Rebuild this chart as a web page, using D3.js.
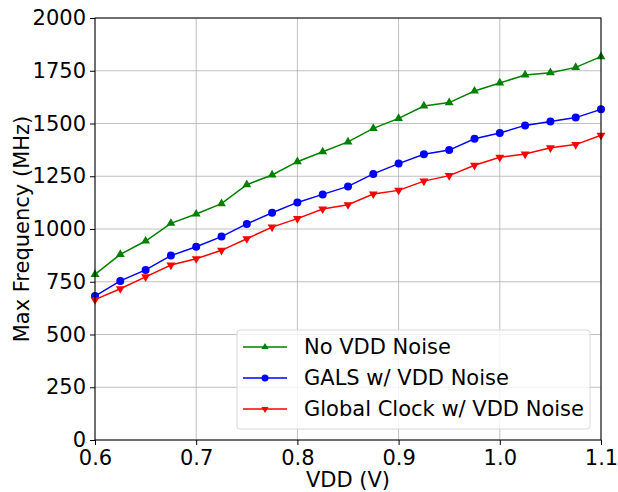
<!DOCTYPE html>
<html><head><meta charset="utf-8">
<script src="https://cdn.jsdelivr.net/npm/d3@7"></script>
<style>body{margin:0;background:#fff}svg{display:block}text{font-family:"DejaVu Sans",sans-serif}</style>
</head><body><svg id="c" width="618" height="492"></svg>
<script>
const vdd = [0.6,0.625,0.65,0.675,0.7,0.725,0.75,0.775,0.8,0.825,0.85,0.875,0.9,0.925,0.95,0.975,1.0,1.025,1.05,1.075,1.1];
const noNoise = [785,880,943,1027,1071,1120,1210,1256,1319,1366,1413,1477,1524,1583,1599,1654,1692,1730,1741,1766,1817];
const gals = [682,754,806,874,916,964,1024,1077,1126,1164,1202,1261,1310,1354,1374,1428,1455,1491,1509,1528,1567];
const globalClk = [665,717,773,829,859,899,954,1009,1049,1095,1115,1166,1183,1227,1253,1302,1340,1355,1385,1400,1444];
const xTicks = [0.6,0.7,0.8,0.9,1.0,1.1];
const yTicks = [0,250,500,750,1000,1250,1500,1750,2000];
const seriesNames = ["No VDD Noise","GALS w/ VDD Noise","Global Clock w/ VDD Noise"];
const seriesColors = ["#008000","#0000ff","#ff0000"];
const seriesMarkers = ["up","circle","down"];
const seriesData = [noNoise, gals, globalClk];

const FS = 21;
const L=95,R=601,T=18,B=440;
const svg=d3.select("#c");
const x=d3.scaleLinear().domain([0.6,1.1]).range([L,R]);
const y=d3.scaleLinear().domain([0,2000]).range([B,T]);

// grid
svg.append("g").selectAll("line").data(xTicks).join("line")
 .attr("x1",d=>x(d)).attr("x2",d=>x(d)).attr("y1",T).attr("y2",B)
 .attr("stroke","#b0b0b0").attr("stroke-width",0.8);
svg.append("g").selectAll("line").data(yTicks).join("line")
 .attr("y1",d=>y(d)).attr("y2",d=>y(d)).attr("x1",L).attr("x2",R)
 .attr("stroke","#b0b0b0").attr("stroke-width",0.8);

const xa=svg.append("g").attr("transform",`translate(0,${B})`)
 .call(d3.axisBottom(x).tickValues(xTicks).tickFormat(d=>d.toFixed(1)).tickSize(5).tickPadding(3));
const ya=svg.append("g").attr("transform",`translate(${L},0)`)
 .call(d3.axisLeft(y).tickValues(yTicks).tickFormat(d=>String(d)).tickSize(5).tickPadding(4));
[xa,ya].forEach(a=>{a.attr("font-size",null).attr("font-family",null);
 a.selectAll("text").style("font-size",FS+"px").attr("fill","#000").style("font-family","DejaVu Sans");
 a.selectAll("line").attr("stroke","#000");a.select(".domain").remove();});
xa.selectAll("text").attr("dy","0.8em");

function marker(sel,type,color,sz,r){
  if(type==="circle") sel.append("circle").attr("r",r).attr("fill",color);
  else sel.append("path").attr("d",d3.symbol().type(d3.symbolTriangle).size(sz)())
     .attr("transform",type==="down"?"rotate(180)":"").attr("fill",color);
}

seriesData.forEach((vals,i)=>{
  const pts=vdd.map((v,j)=>[v,vals[j]]);
  svg.append("path").datum(pts).attr("fill","none").attr("stroke",seriesColors[i]).attr("stroke-width",1.5)
   .attr("d",d3.line().x(d=>x(d[0])).y(d=>y(d[1])));
  svg.append("g").selectAll("g").data(pts).join("g")
   .attr("transform",d=>`translate(${x(d[0])},${y(d[1])})`)
   .each(function(){marker(d3.select(this),seriesMarkers[i],seriesColors[i],34,4);});
});

// frame
svg.append("rect").attr("x",L).attr("y",T).attr("width",R-L).attr("height",B-T)
 .attr("fill","none").attr("stroke","#000").attr("stroke-width",1);

// legend
const lg=svg.append("g");
lg.append("rect").attr("x",237).attr("y",330).attr("width",353).attr("height",99).attr("rx",3)
 .attr("fill","#fff").attr("fill-opacity",0.8).attr("stroke","#d8d8d8");
seriesNames.forEach((n,i)=>{
  const yy=347+i*31;
  lg.append("line").attr("x1",243).attr("x2",287).attr("y1",yy).attr("y2",yy).attr("stroke",seriesColors[i]).attr("stroke-width",1.5);
  const g=lg.append("g").attr("transform",`translate(265,${yy})`);
  marker(g,seriesMarkers[i],seriesColors[i],22,3.5);
  lg.append("text").attr("x",304).attr("y",yy).attr("dy","0.35em").style("font-size",FS+"px").text(n);
});

// axis labels
svg.append("text").attr("x",(L+R)/2).attr("y",487).attr("text-anchor","middle").style("font-size",FS+"px").text("VDD (V)");
svg.append("text").attr("transform",`translate(29,${(T+B)/2}) rotate(-90)`).attr("text-anchor","middle").style("font-size",FS+"px").text("Max Frequency (MHz)");
</script></body></html>
